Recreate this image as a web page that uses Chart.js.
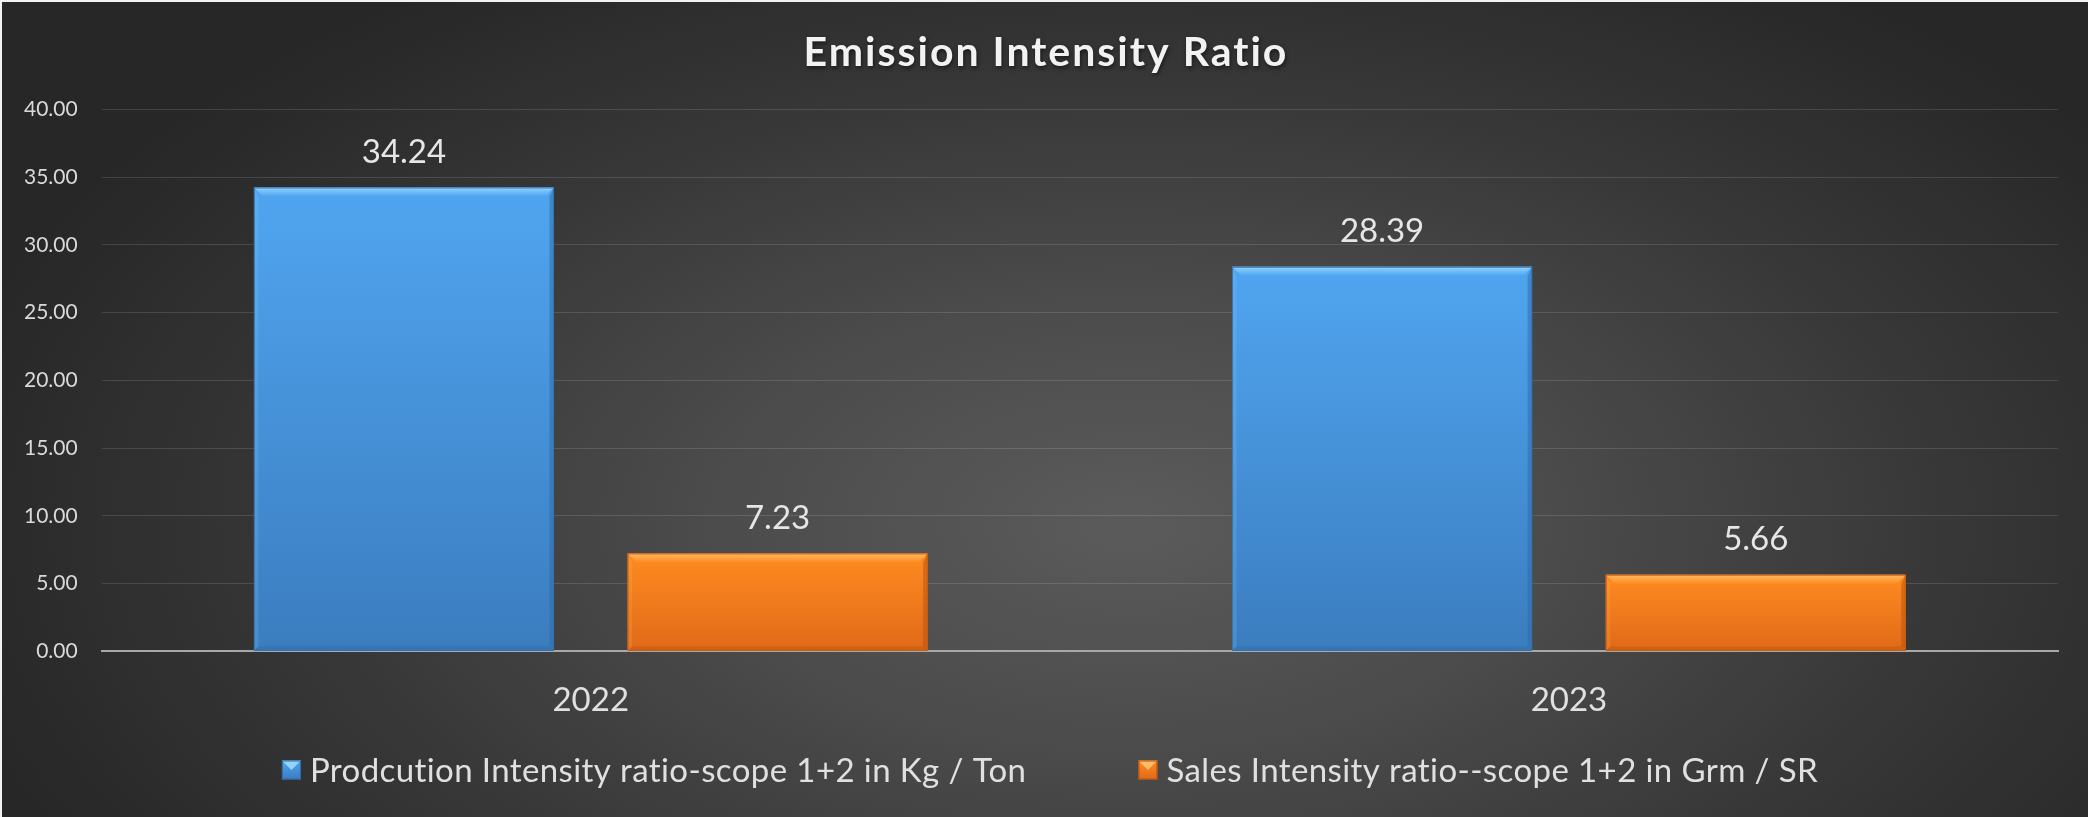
<!DOCTYPE html>
<html>
<head>
<meta charset="utf-8">
<script src="https://cdn.jsdelivr.net/npm/chart.js@4.4.1/dist/chart.umd.min.js"></script>
<style>
  html, body { margin: 0; padding: 0; background: #282828; }
  #wrap {
    position: relative;
    width: 2088px; height: 817px;
    box-sizing: border-box;
    border-top: 2px solid #f2f2f2;
    border-left: 2px solid #f2f2f2;
    background: radial-gradient(ellipse 58% 80% at 54% 64%, #5b5b5b 0%, #4b4b4b 35%, #363636 70%, #272727 100%);
    overflow: hidden;
  }
  canvas { display: block; position: absolute; left: -2px; top: -2px; }
</style>
</head>
<body>
<div id="wrap"><canvas id="chart" width="2088" height="817"></canvas></div>
<script>
// Chart content
const chartTitle = 'Emission Intensity Ratio';
const categories = ['2022', '2023'];
const productionIntensity = [34.24, 28.39];
const salesIntensity = [7.23, 5.66];
const seriesLabels = [
  'Prodcution Intensity ratio-scope 1+2 in Kg / Ton',
  'Sales Intensity ratio--scope 1+2 in Grm / SR'
];
const yAxisMin = 0;
const yAxisMax = 40;
const yAxisStep = 5;

// Colour scheme per series: top/bottom of the fill, bevel light/dark, outline
const palette = [
  { top: '#50a5f0', bottom: '#3b7dbf', light: '#93d4fc', dark: '#2f6aa3', edge: '#3574b0' },
  { top: '#ff8b20', bottom: '#e06918', light: '#ffbb66', dark: '#b4520f', edge: '#c95d12' }
];

// Vertical gradient spanning each bar, computed from the value scale
function barGradient(ctx, p) {
  const chart = ctx.chart;
  const yScale = chart.scales.y;
  if (!chart.chartArea || !yScale || ctx.raw == null) return p.top;
  const top = yScale.getPixelForValue(ctx.raw);
  const bottom = yScale.getPixelForValue(0);
  const g = chart.ctx.createLinearGradient(0, top, 0, bottom);
  g.addColorStop(0, p.top);
  g.addColorStop(1, p.bottom);
  return g;
}

// Bevelled edges on each bar, drawn from the bar elements' geometry
const bevelPlugin = {
  id: 'bevel',
  afterDatasetsDraw(chart) {
    const ctx = chart.ctx;
    chart.data.datasets.forEach((ds, di) => {
      const p = palette[di];
      chart.getDatasetMeta(di).data.forEach(bar => {
        const l = bar.x - bar.width / 2, r = bar.x + bar.width / 2;
        const t = bar.y, b = bar.base;
        const bv = Math.min(9, (b - t) / 3);
        ctx.save();
        // top face
        const tg = ctx.createLinearGradient(0, t, 0, t + bv);
        tg.addColorStop(0, p.light);
        tg.addColorStop(1, p.top);
        ctx.fillStyle = tg;
        ctx.beginPath();
        ctx.moveTo(l, t); ctx.lineTo(r, t); ctx.lineTo(r - bv, t + bv); ctx.lineTo(l + bv, t + bv);
        ctx.closePath(); ctx.fill();
        // right face
        ctx.fillStyle = p.dark; ctx.globalAlpha = 0.5;
        ctx.beginPath();
        ctx.moveTo(r, t); ctx.lineTo(r, b); ctx.lineTo(r - bv * 0.5, b - bv * 0.5); ctx.lineTo(r - bv * 0.5, t + bv);
        ctx.closePath(); ctx.fill();
        // bottom face
        ctx.globalAlpha = 0.4;
        ctx.beginPath();
        ctx.moveTo(l, b); ctx.lineTo(r, b); ctx.lineTo(r - bv * 0.5, b - bv * 0.5); ctx.lineTo(l + bv * 0.5, b - bv * 0.5);
        ctx.closePath(); ctx.fill();
        // left face
        ctx.fillStyle = p.light; ctx.globalAlpha = 0.18;
        ctx.beginPath();
        ctx.moveTo(l, t); ctx.lineTo(l + bv * 0.5, t + bv); ctx.lineTo(l + bv * 0.5, b - bv * 0.5); ctx.lineTo(l, b);
        ctx.closePath(); ctx.fill();
        // outline
        ctx.globalAlpha = 1;
        ctx.strokeStyle = p.edge; ctx.lineWidth = 1;
        ctx.strokeRect(l + 0.5, t + 0.5, r - l - 1, b - t - 1);
        ctx.restore();
      });
    });
  }
};

// Value labels above the bars
const valueLabelPlugin = {
  id: 'valueLabels',
  afterDatasetsDraw(chart) {
    const ctx = chart.ctx;
    ctx.save();
    ctx.font = '33px Lato';
    ctx.fillStyle = '#e6e6e6';
    ctx.textAlign = 'center';
    ctx.textBaseline = 'middle';
    chart.data.datasets.forEach((ds, di) => {
      chart.getDatasetMeta(di).data.forEach((bar, i) => {
        ctx.fillText(ds.data[i].toFixed(2), bar.x, bar.y - 35);
      });
    });
    ctx.restore();
  }
};

// Spaced, shadowed title drawn inside the title block reserved by Chart.js
const titlePlugin = {
  id: 'spacedTitle',
  afterDraw(chart) {
    const tb = chart.titleBlock;
    if (!tb) return;
    const ctx = chart.ctx;
    ctx.save();
    ctx.font = 'bold 41px Lato';
    if ('letterSpacing' in ctx) ctx.letterSpacing = '2px';
    ctx.textAlign = 'center';
    ctx.textBaseline = 'middle';
    ctx.shadowColor = 'rgba(0,0,0,0.55)';
    ctx.shadowBlur = 4;
    ctx.shadowOffsetX = 1;
    ctx.shadowOffsetY = 2;
    ctx.fillStyle = '#f2f2f2';
    ctx.fillText(chartTitle, chart.width / 2 + 2, 53);
    ctx.restore();
  }
};

// Legend row beneath the axis
const legendPlugin = {
  id: 'bottomLegend',
  afterDraw(chart) {
    const ctx = chart.ctx;
    const box = 19, gapText = 9, gapItem = 112, cy = 770;
    ctx.save();
    ctx.font = '33px Lato';
    if ('letterSpacing' in ctx) ctx.letterSpacing = '0.4px';
    ctx.textBaseline = 'middle';
    const items = chart.data.datasets.map((ds, di) => ({
      text: ds.label, p: palette[di], w: box + gapText + ctx.measureText(ds.label).width
    }));
    const total = items.reduce((s, it) => s + it.w, 0) + gapItem * (items.length - 1);
    let x = chart.width / 2 + 6 - total / 2;
    items.forEach(it => {
      const t = cy - box / 2;
      const g = ctx.createLinearGradient(0, t, 0, t + box);
      g.addColorStop(0, it.p.top); g.addColorStop(1, it.p.bottom);
      ctx.fillStyle = g;
      ctx.fillRect(x, t, box, box);
      ctx.fillStyle = it.p.light;
      ctx.beginPath();
      ctx.moveTo(x, t); ctx.lineTo(x + box, t); ctx.lineTo(x + box / 2, t + box / 2); ctx.closePath(); ctx.fill();
      ctx.strokeStyle = it.p.dark; ctx.lineWidth = 1;
      ctx.strokeRect(x + 0.5, t + 0.5, box - 1, box - 1);
      ctx.fillStyle = '#e0e0e0';
      ctx.textAlign = 'left';
      ctx.fillText(it.text, x + box + gapText, cy + 1);
      x += it.w + gapItem;
    });
    ctx.restore();
  }
};

const datasetValues = [productionIntensity, salesIntensity];

new Chart(document.getElementById('chart'), {
  type: 'bar',
  data: {
    labels: categories,
    datasets: datasetValues.map((vals, di) => ({
      label: seriesLabels[di],
      data: vals,
      backgroundColor: (ctx) => barGradient(ctx, palette[di]),
      borderWidth: 0,
      barPercentage: 0.803,
      categoryPercentage: 0.764
    }))
  },
  options: {
    responsive: false,
    animation: false,
    devicePixelRatio: 1,
    layout: { padding: { top: 16, left: 0, right: 30, bottom: 76 } },
    plugins: {
      legend: { display: false },
      tooltip: { enabled: false },
      title: {
        display: true,
        text: chartTitle,
        color: 'rgba(0,0,0,0)',
        font: { family: 'Lato', size: 37, weight: 'bold' },
        padding: { top: 14, bottom: 35 }
      }
    },
    scales: {
      x: {
        grid: { display: false },
        border: { display: true, color: '#a8a8a8', width: 2 },
        ticks: { color: '#e0e0e0', font: { family: 'Lato', size: 33 }, padding: 21 }
      },
      y: {
        min: yAxisMin,
        max: yAxisMax,
        border: { display: false },
        grid: { color: 'rgba(255,255,255,0.13)', lineWidth: 1, drawTicks: false },
        ticks: {
          stepSize: yAxisStep,
          color: '#d9d9d9',
          font: { family: 'Lato', size: 21 },
          padding: 24,
          callback: (v) => Number(v).toFixed(2)
        }
      }
    }
  },
  plugins: [bevelPlugin, valueLabelPlugin, titlePlugin, legendPlugin]
});
</script>
</body>
</html>
